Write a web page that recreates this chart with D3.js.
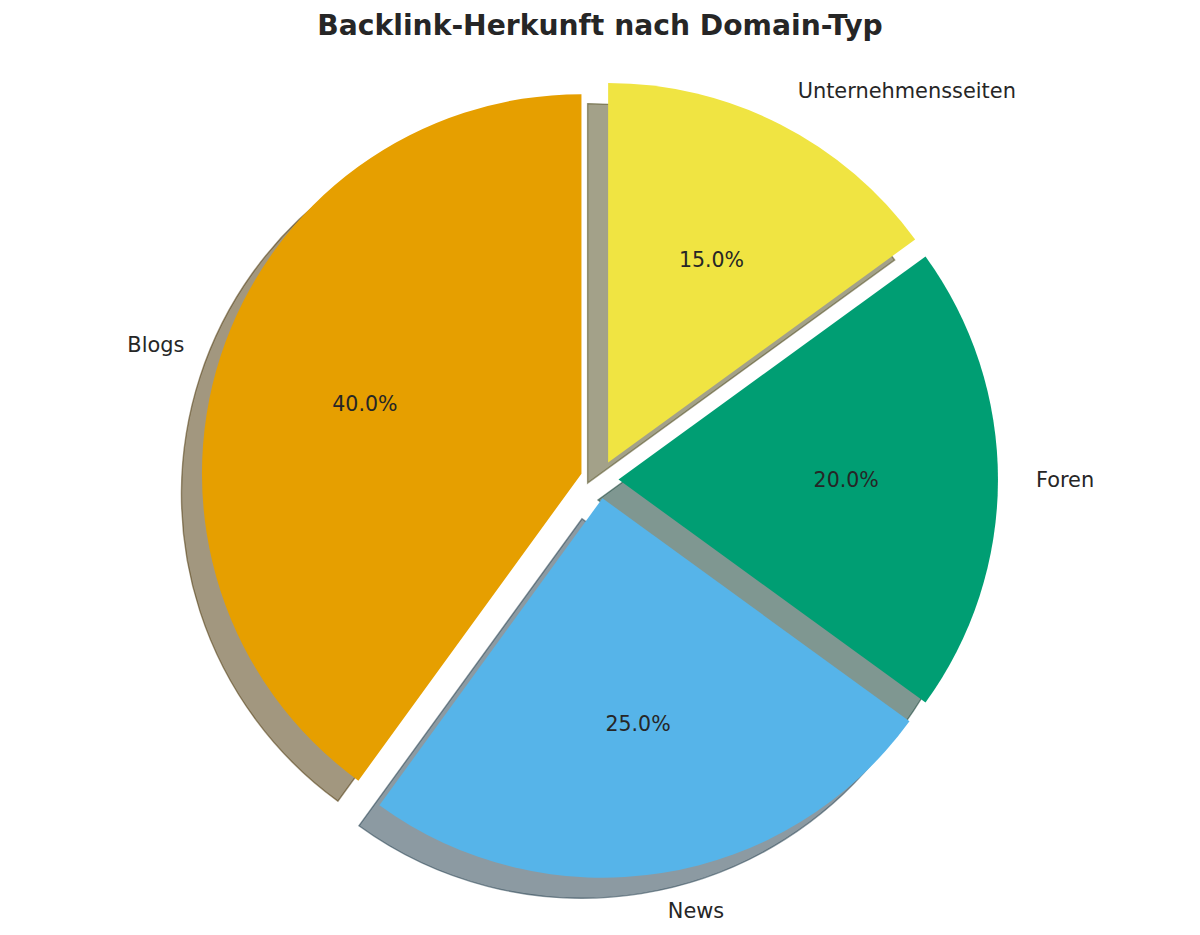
<!DOCTYPE html>
<html>
<head>
<meta charset="utf-8">
<script src="https://cdn.jsdelivr.net/npm/d3@7"></script>
<style>
  body { margin: 0; background: #fff; }
  svg { display: block; font-family: "DejaVu Sans", sans-serif; }
</style>
</head>
<body>
<div id="chart"></div>
<script>
const categories = ['Blogs', 'News', 'Foren', 'Unternehmensseiten'];
const values = [40, 25, 20, 15];
const colors = ['#E69F00', '#56B4E9', '#009E73', '#F0E442'];
const explode = [0.05, 0.05, 0.05, 0.05];

const W = 1200, H = 935;
const cx = 599.5, cy = 479.5, R = 379.5;
const shadowOffset = 20.5;

const svg = d3.select('#chart')
  .append('svg')
  .attr('width', W)
  .attr('height', H);

// data units (-1..1) -> pixels, like an equal-aspect axes
const x = d3.scaleLinear().domain([-1, 1]).range([cx - R, cx + R]);
const y = d3.scaleLinear().domain([-1, 1]).range([cy + R, cy - R]);

const data = categories.map((c, i) => ({ label: c, value: values[i], color: colors[i], explode: explode[i] }));
const total = d3.sum(values);

// start at 12 o'clock, go counterclockwise
const pie = d3.pie().value(d => d.value).sort(null).startAngle(0).endAngle(-2 * Math.PI);
const arcs = pie(data);

const arc = d3.arc().innerRadius(0).outerRadius(R);

// wedge center after explode, in data units
function offset(a, dist) {
  const mid = (a.startAngle + a.endAngle) / 2;
  return [Math.sin(mid) * dist, Math.cos(mid) * dist];
}

const shade = c => { const r = d3.rgb(c); return d3.rgb(r.r * 0.3, r.g * 0.3, r.b * 0.3); };

// Shadows (all below the wedges)
svg.append('g')
  .selectAll('path')
  .data(arcs)
  .join('path')
  .attr('transform', d => {
    const [ox, oy] = offset(d, d.data.explode);
    return `translate(${x(ox) - shadowOffset},${y(oy) + shadowOffset})`;
  })
  .attr('d', arc)
  .attr('fill', d => shade(d.data.color))
  .attr('fill-opacity', 0.5)
  .attr('stroke', d => shade(d.data.color))
  .attr('stroke-opacity', 0.5)
  .attr('stroke-width', 1.4);

// Wedges
svg.append('g')
  .selectAll('path')
  .data(arcs)
  .join('path')
  .attr('transform', d => {
    const [ox, oy] = offset(d, d.data.explode);
    return `translate(${x(ox)},${y(oy)})`;
  })
  .attr('d', arc)
  .attr('fill', d => d.data.color);

// Category labels at 1.1 radius
svg.append('g')
  .selectAll('text')
  .data(arcs)
  .join('text')
  .each(function(d) {
    const [ox, oy] = offset(d, d.data.explode);
    const [lx, ly] = offset(d, 1.1);
    d3.select(this)
      .attr('x', x(ox + lx))
      .attr('y', y(oy + ly))
      .attr('text-anchor', ox + lx > 0 ? 'start' : 'end');
  })
  .attr('dy', '0.37em')
  .attr('font-size', '20.9px')
  .attr('fill', '#262626')
  .text(d => d.data.label);

// Percent labels at 0.6 radius
svg.append('g')
  .selectAll('text')
  .data(arcs)
  .join('text')
  .each(function(d) {
    const [ox, oy] = offset(d, d.data.explode);
    const [lx, ly] = offset(d, 0.6);
    d3.select(this)
      .attr('x', x(ox + lx))
      .attr('y', y(oy + ly));
  })
  .attr('text-anchor', 'middle')
  .attr('dy', '0.37em')
  .attr('font-size', '20.5px')
  .attr('fill', '#262626')
  .text(d => d3.format('.1f')(d.data.value / total * 100) + '%');

// Title
svg.append('text')
  .attr('x', W / 2)
  .attr('y', 35)
  .attr('text-anchor', 'middle')
  .attr('font-size', '28.2px')
  .attr('font-weight', 'bold')
  .attr('fill', '#262626')
  .text('Backlink-Herkunft nach Domain-Typ');
</script>
</body>
</html>
